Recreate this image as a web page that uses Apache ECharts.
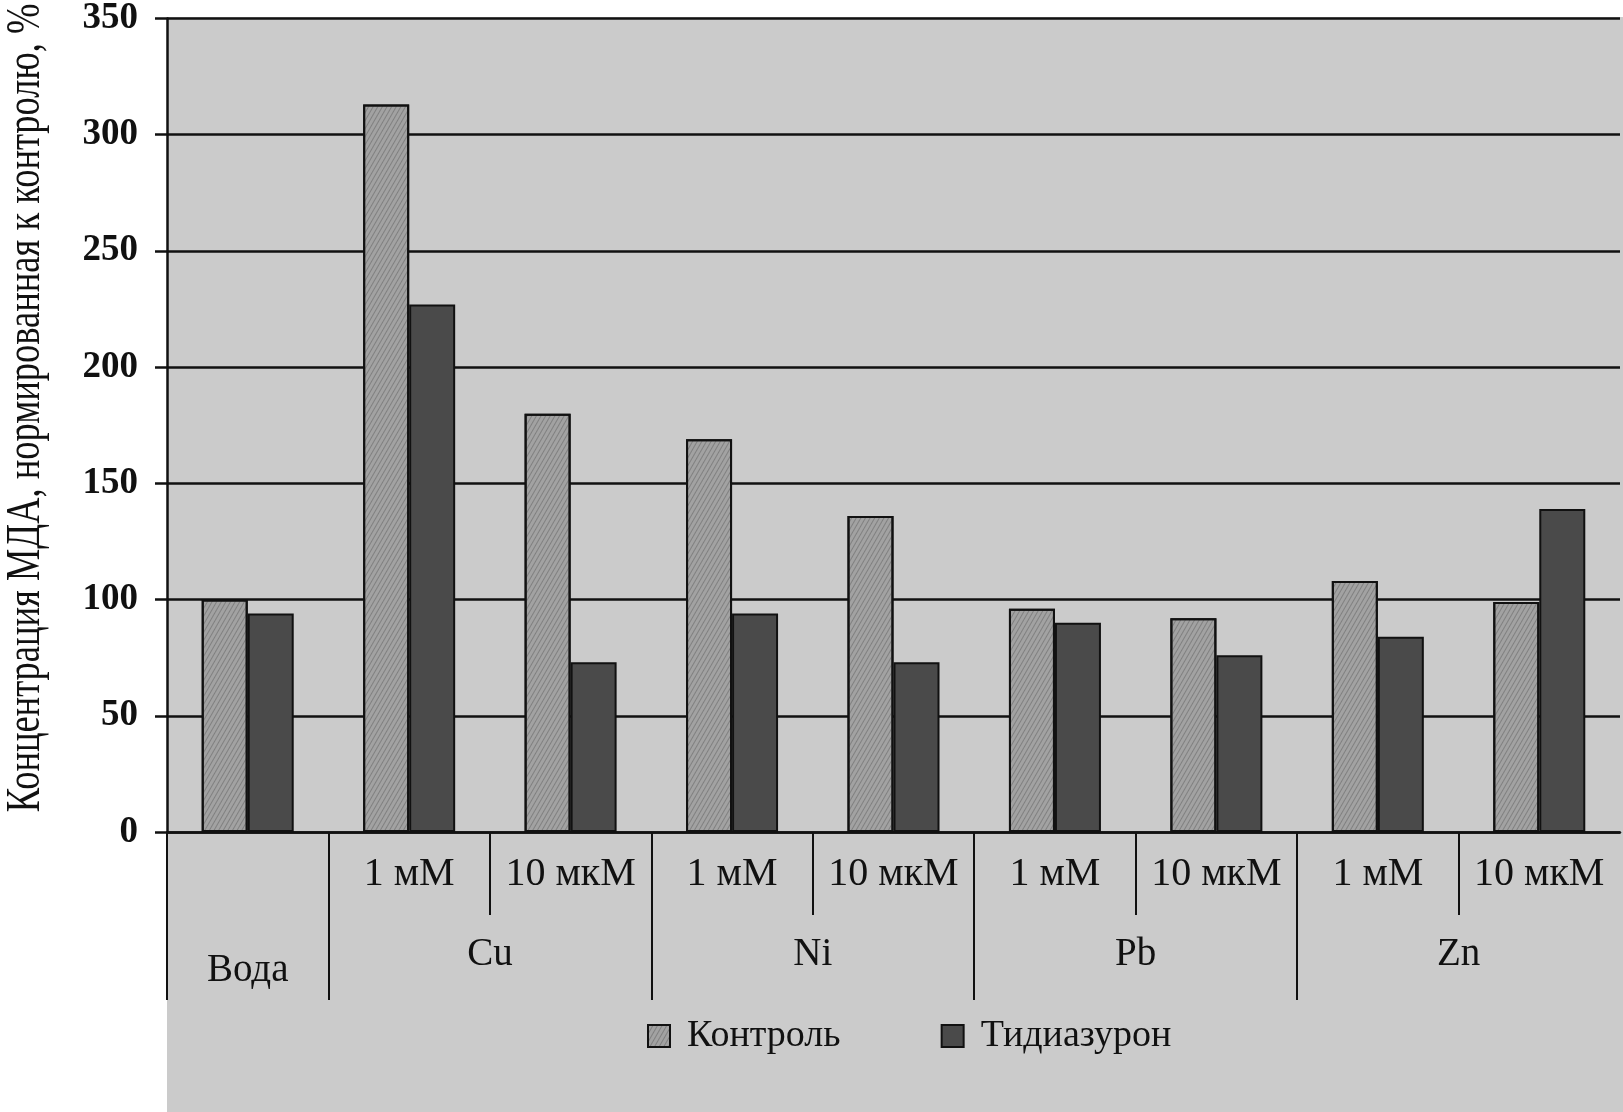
<!DOCTYPE html>
<html><head><meta charset="utf-8">
<script src="https://cdn.jsdelivr.net/npm/echarts@6/dist/echarts.min.js"></script>
<style>html,body{margin:0;padding:0;background:#fff}#c{width:1623px;height:1112px}</style>
</head><body><div id="c"></div>
<script>
// ---- data ----
const categories = ['Вода', 'Cu 1 мМ', 'Cu 10 мкМ', 'Ni 1 мМ', 'Ni 10 мкМ', 'Pb 1 мМ', 'Pb 10 мкМ', 'Zn 1 мМ', 'Zn 10 мкМ'];
const doseLabels = ['', '1 мМ', '10 мкМ', '1 мМ', '10 мкМ', '1 мМ', '10 мкМ', '1 мМ', '10 мкМ'];
// half-category positions (19 points from left edge to right edge of plot)
const groupLabels = ['', 'Вода', '', '', 'Cu', '', '', '', 'Ni', '', '', '', 'Pb', '', '', '', 'Zn', '', ''];
const longSeparators = [0, 2, 6, 10, 14];
const shortSeparators = [4, 8, 12, 16];
const controlValues = [100, 313, 180, 169, 136, 96, 92, 108, 99];
const tdzValues = [94, 227, 73, 94, 73, 90, 76, 84, 139];
const seriesNames = ['Контроль', 'Тидиазурон'];
const yTitle = 'Концентрация МДА, нормированная к контролю, %';
const yMin = 0, yMax = 350, yStep = 50;

const SERIF = '"Liberation Serif", "DejaVu Serif", serif';
const INK = '#111';
const chart = echarts.init(document.getElementById('c'), null, {renderer: 'canvas'});

const halfPoints = groupLabels.map((_, i) => 'p' + i);

chart.setOption({
  animation: false,
  backgroundColor: '#ffffff',
  grid: {left: 167, right: 2, top: 17, bottom: 280, containLabel: false},
  graphic: [
    {type: 'rect', z: -100, silent: true, shape: {x: 167, y: 17, width: 1460, height: 1100}, style: {fill: '#cbcbcb'}},
    {type: 'text', z: 100, x: 26, y: 408, rotation: Math.PI / 2, scaleX: 0.76,
     style: {text: yTitle, font: '48px ' + SERIF, fill: INK, textAlign: 'center', textVerticalAlign: 'middle'}}
  ],
  legend: {
    data: seriesNames, left: 642, top: 1012, itemWidth: 22, itemHeight: 22, itemGap: 100, icon: 'rect',
    textStyle: {fontFamily: SERIF, fontSize: 38, color: INK, padding: [0, 0, 0, 12]}
  },
  xAxis: [
    {
      type: 'category', data: categories, position: 'bottom',
      axisLine: {show: true, onZero: false, lineStyle: {color: INK, width: 2.5}},
      axisTick: {show: false},
      axisLabel: {interval: 0, margin: 22, fontFamily: SERIF, fontSize: 40, color: INK, lineHeight: 40,
                  formatter: (v, i) => doseLabels[i]}
    },
    {
      type: 'category', data: halfPoints, boundaryGap: false, position: 'bottom', gridIndex: 0,
      axisLine: {show: false},
      axisTick: {show: true, length: 168, interval: (i) => longSeparators.includes(i), lineStyle: {color: INK, width: 2}},
      axisLabel: {interval: 0, margin: 103, fontFamily: SERIF, fontSize: 39, color: INK, lineHeight: 39,
                  formatter: (v, i) => groupLabels[i] === 'Вода' ? '{w|Вода}' : groupLabels[i],
                  rich: {w: {fontFamily: SERIF, fontSize: 39, color: INK, padding: [33, 0, 0, 0]}}}
    },
    {
      type: 'category', data: halfPoints, boundaryGap: false, position: 'bottom', gridIndex: 0,
      axisLine: {show: false},
      axisTick: {show: true, length: 83, interval: (i) => shortSeparators.includes(i), lineStyle: {color: INK, width: 2}},
      axisLabel: {show: false}
    }
  ],
  yAxis: {
    type: 'value', min: yMin, max: yMax, interval: yStep,
    axisLine: {show: true, lineStyle: {color: INK, width: 2.5}},
    axisTick: {show: true, length: 12, lineStyle: {color: INK, width: 2.5}},
    axisLabel: {margin: 29, fontFamily: SERIF, fontWeight: 'bold', fontSize: 37, color: INK},
    splitLine: {show: true, lineStyle: {color: INK, width: 2.5}}
  },
  series: [
    {name: seriesNames[0], type: 'bar', data: controlValues, barWidth: 46, barGap: '0%',
     itemStyle: {color: '#a2a2a2', borderColor: INK, borderWidth: 2,
                 decal: {symbol: 'rect', color: 'rgba(40,40,40,0.28)', dashArrayX: [1, 0], dashArrayY: [1, 3], rotation: -Math.PI / 3}}},
    {name: seriesNames[1], type: 'bar', data: tdzValues, barWidth: 46, barGap: '0%',
     itemStyle: {color: '#4a4a4a', borderColor: INK, borderWidth: 2}}
  ]
});
</script></body></html>
